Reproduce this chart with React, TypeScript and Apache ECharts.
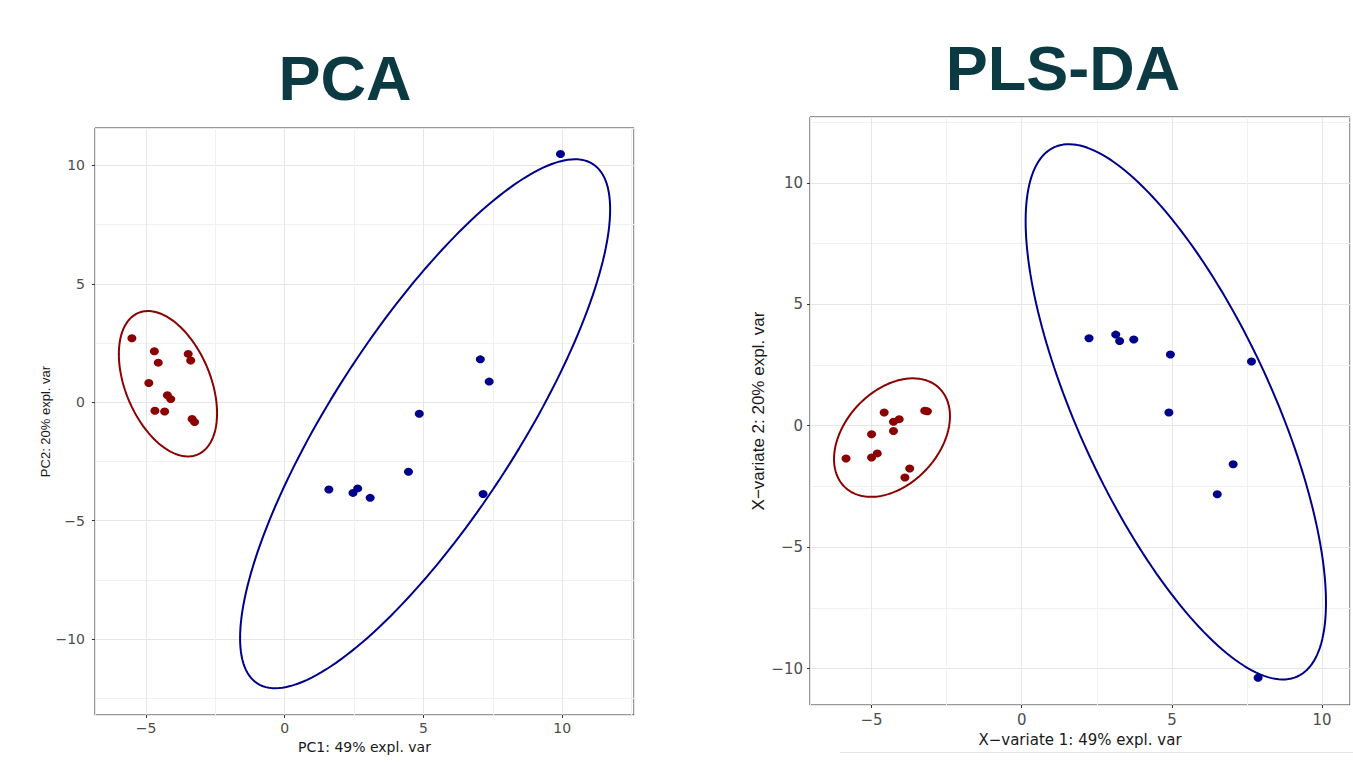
import React, { useEffect, useRef } from "react";
import * as echarts from "echarts";

// ---- PCA scores ----
const pcaRedX = [-5.51, -4.7, -4.56, -3.48, -3.39, -4.9, -4.23, -4.11, -4.68, -4.33, -3.34, -3.25];
const pcaRedY = [2.7, 2.15, 1.67, 2.04, 1.76, 0.81, 0.29, 0.13, -0.36, -0.39, -0.71, -0.84];
const pcaBlueX = [9.94, 7.05, 7.37, 4.85, 4.46, 1.59, 2.46, 2.63, 3.08, 7.15];
const pcaBlueY = [10.48, 1.81, 0.87, -0.49, -2.94, -3.69, -3.83, -3.64, -4.04, -3.88];

// ---- PLS-DA scores ----
const plsRedX = [-5.85, -5.0, -5.0, -4.81, -4.58, -4.27, -4.27, -4.08, -3.89, -3.73, -3.23, -3.14];
const plsRedY = [-1.35, -0.35, -1.31, -1.14, 0.54, -0.22, 0.16, 0.27, -2.13, -1.76, 0.62, 0.59];
const plsBlueX = [2.24, 3.13, 3.26, 3.73, 4.95, 4.9, 7.65, 7.04, 6.51, 7.87];
const plsBlueY = [3.6, 3.75, 3.49, 3.55, 2.93, 0.54, 2.64, -1.59, -2.82, -10.38];

// ---- confidence ellipses: [centerX, centerY, halfWidth, halfHeight, yOffsetAtRightmostPoint] ----
const pcaRedEllipse = [-4.21, 0.78, 1.77, 3.07, -1.25];
const pcaBlueEllipse = [5.06, -0.91, 6.67, 11.17, 9.05];
const plsRedEllipse = [-4.32, -0.49, 1.93, 2.44, 0.88];
const plsBlueEllipse = [5.13, 0.57, 5.0, 11.02, -7.85];

// ---- axis ranges ----
const pcaXRange = [-6.84, 12.59];
const pcaYRange = [-13.21, 11.58];
const plsXRange = [-7.05, 10.93];
const plsYRange = [-11.5, 12.71];

const titles = ["PCA", "PLS-DA"];
const xNames = ["PC1: 49% expl. var", "X\u2212variate 1: 49% expl. var"];
const yNames = ["PC2: 20% expl. var", "X\u2212variate 2: 20% expl. var"];

const RED = "#8b0000";
const BLUE = "#00008b";

function zip(xs: number[], ys: number[]) {
  return xs.map((x, i) => [x, ys[i]]);
}

function ellipseOutline(p: number[]) {
  const [cx, cy, w, h, dy] = p;
  const l22 = Math.sqrt(h * h - dy * dy);
  const pts: number[][] = [];
  for (let i = 0; i <= 200; i++) {
    const t = (2 * Math.PI * i) / 200;
    pts.push([cx + w * Math.cos(t), cy + dy * Math.cos(t) + l22 * Math.sin(t)]);
  }
  return pts;
}

const fmt = (v: number) => (v < 0 ? "\u2212" + Math.abs(v) : String(v));

function xAxisCfg(gridIndex: number, range: number[], name: string, fs: number, nameGap: number, margin: number) {
  return {
    type: "value",
    gridIndex,
    position: "bottom",
    min: range[0],
    max: range[1],
    splitNumber: 4,
    minInterval: 5,
    maxInterval: 5,
    name,
    nameLocation: "middle",
    nameGap,
    nameTextStyle: { color: "#1a1a1a", fontSize: fs, fontFamily: "DejaVu Sans" },
    axisLine: { show: false, onZero: false },
    axisTick: { show: true, length: 3, lineStyle: { color: "#333333" } },
    axisLabel: {
      color: "#4d4d4d",
      fontSize: fs,
      fontFamily: "DejaVu Sans",
      margin,
      showMinLabel: false,
      showMaxLabel: false,
      formatter: fmt,
    },
    splitLine: { show: true, lineStyle: { color: "#e6e6e6", width: 1 } },
    minorTick: { show: false, splitNumber: 2 },
    minorSplitLine: { show: true, lineStyle: { color: "#f1f1f1", width: 1 } },
  };
}

function yAxisCfg(gridIndex: number, range: number[], name: string, fs: number, nameFs: number, nameGap: number, margin: number) {
  return {
    type: "value",
    gridIndex,
    position: "left",
    min: range[0],
    max: range[1],
    splitNumber: 5,
    minInterval: 5,
    maxInterval: 5,
    name,
    nameLocation: "middle",
    nameGap,
    nameTextStyle: { color: "#1a1a1a", fontSize: nameFs, fontFamily: "Liberation Sans" },
    axisLine: { show: false, onZero: false },
    axisTick: { show: true, length: 3, lineStyle: { color: "#333333" } },
    axisLabel: {
      color: "#4d4d4d",
      fontSize: fs,
      fontFamily: "DejaVu Sans",
      margin,
      showMinLabel: false,
      showMaxLabel: false,
      formatter: fmt,
    },
    splitLine: { show: true, lineStyle: { color: "#e6e6e6", width: 1 } },
    minorTick: { show: false, splitNumber: 2 },
    minorSplitLine: { show: true, lineStyle: { color: "#f1f1f1", width: 1 } },
  };
}

function scatter(idx: number, data: number[][], color: string) {
  return {
    type: "scatter",
    xAxisIndex: idx,
    yAxisIndex: idx,
    data,
    symbol: "circle",
    symbolSize: [9, 8],
    itemStyle: { color, opacity: 1 },
    z: 4,
    silent: true,
  };
}

function ellipseSeries(idx: number, p: number[], color: string) {
  return {
    type: "line",
    xAxisIndex: idx,
    yAxisIndex: idx,
    data: ellipseOutline(p),
    showSymbol: false,
    symbol: "none",
    lineStyle: { color, width: 2 },
    z: 3,
    silent: true,
    clip: true,
  };
}

export default function App() {
  const ref = useRef<HTMLDivElement>(null);
  useEffect(() => {
    if (!ref.current) return;
    const chart = echarts.init(ref.current, undefined, { renderer: "svg" });
    chart.setOption({
      animation: false,
      backgroundColor: "#ffffff",
      grid: [
        { left: 95, top: 128, width: 539, height: 587, show: true, borderColor: "#333333", borderWidth: 1, containLabel: false },
        { left: 810, top: 117, width: 540, height: 588, show: true, borderColor: "#333333", borderWidth: 1, containLabel: false },
      ],
      xAxis: [
        xAxisCfg(0, pcaXRange, xNames[0], 14, 23, 6),
        xAxisCfg(1, plsXRange, xNames[1], 15, 27, 7),
      ],
      yAxis: [
        yAxisCfg(0, pcaYRange, yNames[0], 14, 13, 36, 10),
        yAxisCfg(1, plsYRange, yNames[1], 15, 17, 22, 7),
      ],
      series: [
        ellipseSeries(0, pcaRedEllipse, RED),
        ellipseSeries(0, pcaBlueEllipse, BLUE),
        scatter(0, zip(pcaRedX, pcaRedY), RED),
        scatter(0, zip(pcaBlueX, pcaBlueY), BLUE),
        ellipseSeries(1, plsRedEllipse, RED),
        ellipseSeries(1, plsBlueEllipse, BLUE),
        scatter(1, zip(plsRedX, plsRedY), RED),
        scatter(1, zip(plsBlueX, plsBlueY), BLUE),
      ],
      graphic: [
        {
          type: "text",
          x: 345,
          y: 78,
          style: {
            text: titles[0],
            font: "bold 63px 'Liberation Sans', Arial, sans-serif",
            fill: "#0b3a42",
            textAlign: "center",
            textVerticalAlign: "middle",
          },
        },
        {
          type: "text",
          x: 1063,
          y: 68,
          style: {
            text: titles[1],
            font: "bold 63px 'Liberation Sans', Arial, sans-serif",
            fill: "#0b3a42",
            textAlign: "center",
            textVerticalAlign: "middle",
          },
        },
        {
          type: "line",
          shape: { x1: 840, y1: 752.5, x2: 1353, y2: 752.5 },
          style: { stroke: "#e3e3e3", lineWidth: 1 },
        },
      ],
    });
    return () => chart.dispose();
  }, []);
  return (
    <div
      ref={ref}
      style={{ position: "fixed", left: 0, top: 0, width: 1353, height: 767, background: "#fff" }}
    />
  );
}
